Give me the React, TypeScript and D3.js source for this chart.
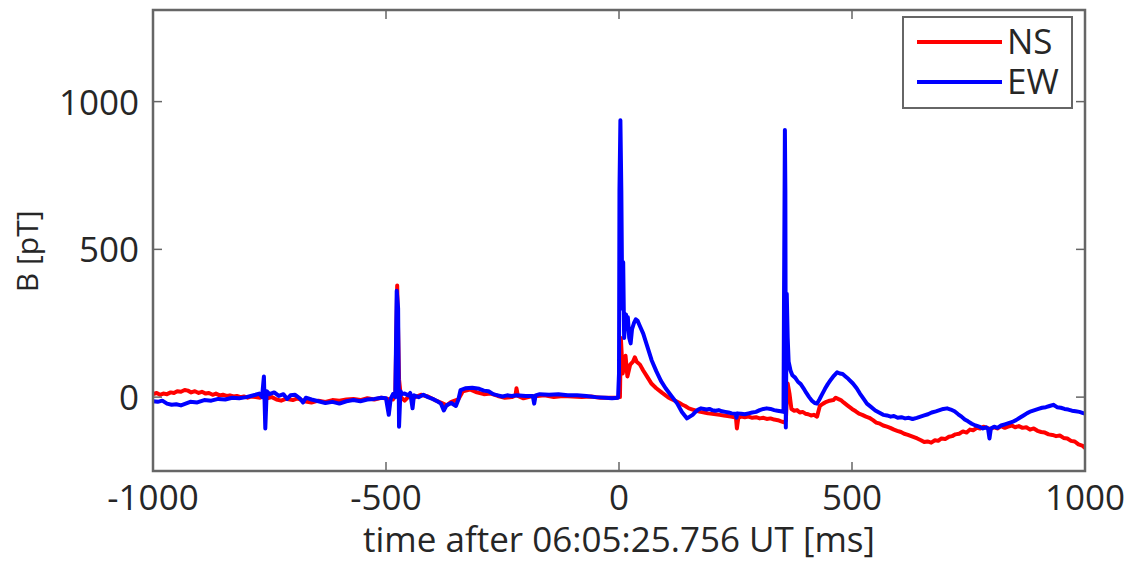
import React from "react";
import * as d3 from "d3";

// [time ms, B pT]
const nsSeries: [number, number][] = [
  [-1000,10],[-992,14],[-985,8],[-978,12],[-970,10],[-962,16],[-955,14],[-948,20],[-940,18],[-932,24],[-925,22],[-918,16],[-910,20],[-902,14],[-895,18],[-887,12],[-880,14],[-872,8],[-865,12],[-857,6],[-850,8],[-842,4],[-835,6],[-827,2],[-820,4],[-812,0],[-805,2],[-797,-2],[-790,2],[-780,0],[-770,-2],[-765,4],[-755,-4],[-745,0],[-735,-8],[-725,-12],[-715,-6],[-700,-10],[-690,-4],[-675,-14],[-660,-18],[-645,-12],[-630,-16],[-615,-10],[-600,-12],[-585,-8],[-570,-6],[-555,-10],[-540,-4],[-525,-8],[-510,-2],[-495,-6],[-485,-8],[-480,10],[-476,378],[-472,60],[-468,0],[-460,-12],[-450,4],[-440,-2],[-425,8],[-410,2],[-395,-10],[-380,-20],[-370,-28],[-360,-16],[-345,-8],[-335,20],[-320,26],[-305,16],[-290,10],[-275,12],[-260,4],[-245,-2],[-230,0],[-222,6],[-220,30],[-217,4],[-205,-4],[-190,2],[-175,4],[-160,6],[-140,0],[-120,4],[-100,2],[-80,0],[-60,2],[-40,-2],[-20,-2],[-5,-2],[0,0],[2,0],[4,200],[8,80],[14,140],[18,70],[24,110],[30,120],[34,135],[38,120],[45,110],[52,90],[60,70],[70,45],[80,30],[92,15],[105,0],[112,-6],[120,-12],[128,-18],[135,-25],[142,-30],[150,-38],[158,-42],[166,-46],[175,-50],[183,-52],[191,-55],[200,-56],[208,-58],[216,-60],[225,-62],[233,-64],[240,-66],[248,-68],[251,-70],[253,-106],[256,-70],[262,-66],[270,-68],[278,-66],[286,-70],[294,-68],[302,-72],[310,-70],[317,-74],[325,-72],[333,-76],[341,-78],[348,-82],[354,-85],[358,-80],[362,46],[366,10],[370,-40],[376,-46],[382,-44],[388,-52],[394,-50],[400,-56],[406,-58],[412,-62],[418,-60],[425,-66],[431,-30],[438,-22],[445,-16],[452,-12],[460,-10],[465,-2],[470,-6],[476,-10],[482,-18],[490,-28],[500,-40],
  [508,-48],[515,-56],[522,-60],[530,-66],[537,-70],[545,-78],[552,-86],[560,-90],[567,-96],[575,-100],[582,-104],[590,-110],[597,-114],[605,-118],[612,-124],[620,-128],[630,-134],[640,-140],[648,-146],[655,-152],[662,-150],[670,-154],[678,-146],[685,-148],[692,-140],[700,-142],[708,-134],[715,-132],[722,-126],[730,-124],[738,-116],[746,-120],[753,-110],[760,-112],[768,-104],[775,-106],[782,-100],[790,-104],[797,-108],[805,-102],[812,-106],[820,-98],[828,-104],[835,-100],[843,-96],[850,-102],[858,-98],[866,-104],[874,-102],[882,-110],[890,-106],[898,-114],[906,-118],[914,-120],[922,-126],[930,-128],[938,-132],[946,-130],[954,-138],[962,-140],[970,-148],[978,-150],[986,-160],[994,-164],[1000,-172],
];

const ewSeries: [number, number][] = [
  [-1000,-14],[-990,-16],[-980,-12],[-970,-22],[-960,-26],[-950,-24],[-940,-28],[-930,-22],[-920,-16],[-905,-18],[-890,-10],[-875,-12],[-860,-6],[-845,-8],[-830,-2],[-815,-4],[-800,0],[-790,4],[-780,8],[-772,12],[-766,0],[-762,70],[-759,-106],[-756,20],[-750,10],[-740,16],[-730,4],[-720,10],[-712,-6],[-705,6],[-695,8],[-685,-4],[-678,-18],[-672,-2],[-660,-8],[-645,-14],[-630,-20],[-615,-16],[-600,-22],[-585,-14],[-570,-10],[-555,-14],[-540,-8],[-525,-6],[-510,-2],[-500,-4],[-494,-60],[-490,-6],[-485,10],[-480,0],[-477,360],[-474,300],[-472,-100],[-469,20],[-466,10],[-460,12],[-452,6],[-448,14],[-443,-38],[-440,6],[-430,0],[-420,8],[-410,0],[-400,-6],[-390,-14],[-382,-22],[-376,-45],[-370,-28],[-360,-20],[-350,-30],[-345,-10],[-340,24],[-330,30],[-315,32],[-300,28],[-290,22],[-280,20],[-270,10],[-260,6],[-250,2],[-240,6],[-230,4],[-220,6],[-200,4],[-185,4],[-182,-22],[-179,6],[-170,10],[-150,8],[-130,10],[-110,6],[-90,6],[-70,4],[-50,0],[-30,-2],[-15,-4],[-2,-2],
  [0,80],[1,700],[3,937],[5,700],[7,300],[9,456],[11,200],[13,240],[15,280],[17,250],[19,270],[22,200],[25,182],[28,230],[32,250],[36,263],[40,258],[45,240],[52,215],[60,175],[70,125],[80,88],[90,55],[100,30],[112,5],[125,-22],[135,-50],[146,-72],
  [152,-66],[158,-60],[164,-50],[170,-42],[176,-38],[182,-40],[188,-42],[194,-40],[200,-44],[207,-46],[214,-44],[221,-48],[228,-50],[235,-52],[242,-55],[250,-56],[252,-70],[254,-55],[262,-56],[270,-58],[278,-55],[286,-52],[294,-50],[302,-44],[310,-40],[317,-38],[325,-40],[333,-44],[340,-46],[347,-48],[353,-50],
  [354,300],[355,600],[356,904],[357,700],[358,-103],[360,350],[362,200],[364,120],[368,90],[372,74],[378,66],[384,52],[390,44],[396,30],[402,14],[408,0],[414,-12],[420,-20],[425,-22],[430,-8],[436,10],[442,28],[448,44],[455,60],[461,72],[468,84],[474,80],[480,78],[486,70],[492,62],
  [502,46],[510,30],[517,12],[525,-6],[532,-22],[540,-32],[550,-45],[558,-52],[567,-60],[575,-62],[583,-66],[590,-64],[598,-70],[606,-68],[614,-72],[622,-70],[630,-74],[639,-70],[647,-66],[655,-62],[663,-58],[671,-52],[680,-48],[688,-44],[696,-40],[704,-38],[712,-42],[720,-48],[728,-58],[735,-66],[742,-76],[749,-82],[757,-90],[765,-96],[773,-100],[781,-106],[788,-102],[792,-108],[795,-140],[798,-106],[805,-100],[812,-104],[820,-96],[828,-92],[836,-88],[844,-84],[852,-78],[860,-70],[868,-62],[876,-54],[884,-48],[892,-44],[900,-40],[908,-36],[916,-34],[924,-30],[932,-26],[940,-34],[948,-36],[956,-40],[964,-42],[972,-46],[980,-48],[988,-50],[996,-54],[1000,-56],
];

const xTicks = [-1000, -500, 0, 500, 1000];
const yTicks = [0, 500, 1000];
const seriesNames = ["NS", "EW"];
const seriesColors = ["#ff0000", "#0000ff"];

const W = 1128, H = 563;
const L = 153, R = 1085, T = 10, B = 471;
const FONT = "'Open Sans', sans-serif";
const TEXT = "#262626";
const AXIS = "#666666";

export default function App() {
  const x = d3.scaleLinear().domain([-1000, 1000]).range([L, R]);
  const y = d3.scaleLinear().domain([-250, 1310]).range([B, T]);
  const line = d3.line<[number, number]>().x(d => x(d[0])).y(d => y(d[1]));
  const data = [nsSeries, ewSeries];
  const tickLen = 9;
  return (
    <svg width={W} height={H} style={{ position: "absolute", left: 0, top: 0, background: "#fff" }}>
      <rect x={0} y={0} width={W} height={H} fill="#fff" />
      <defs>
        <clipPath id="plot"><rect x={L} y={T} width={R - L} height={B - T} /></clipPath>
      </defs>
      <g clipPath="url(#plot)">
        {data.map((d, i) => (
          <path key={i} d={line(d) || ""} fill="none" stroke={seriesColors[i]} strokeWidth={4} strokeLinejoin="round" />
        ))}
      </g>
      {xTicks.map(t => (
        <g key={"x" + t}>
          <line x1={x(t)} x2={x(t)} y1={B} y2={B - tickLen} stroke={AXIS} strokeWidth={1.5} />
          <line x1={x(t)} x2={x(t)} y1={T} y2={T + tickLen} stroke={AXIS} strokeWidth={1.5} />
          <text x={x(t)} y={510} textAnchor="middle" fontFamily={FONT} fontSize={35} fill={TEXT}>{t}</text>
        </g>
      ))}
      {yTicks.map(t => (
        <g key={"y" + t}>
          <line x1={L} x2={L + tickLen} y1={y(t)} y2={y(t)} stroke={AXIS} strokeWidth={1.5} />
          <line x1={R} x2={R - tickLen} y1={y(t)} y2={y(t)} stroke={AXIS} strokeWidth={1.5} />
          <text x={139} y={y(t) + 13} textAnchor="end" fontFamily={FONT} fontSize={35} fill={TEXT}>{t}</text>
        </g>
      ))}
      <rect x={L} y={T} width={R - L} height={B - T} fill="none" stroke={AXIS} strokeWidth={2.5} />
      <text x={(L + R) / 2} y={552} textAnchor="middle" fontFamily={FONT} fontSize={35} fill={TEXT}>time after 06:05:25.756 UT [ms]</text>
      <text transform={`translate(38, ${y(500) + 2}) rotate(-90)`} textAnchor="middle" fontFamily={FONT} fontSize={30} fill={TEXT}>B [pT]</text>
      <rect x={903} y={17} width={169} height={91} fill="#fff" stroke={AXIS} strokeWidth={2} />
      {seriesNames.map((n, i) => (
        <g key={n}>
          <line x1={917} x2={1002} y1={42 + i * 40} y2={42 + i * 40} stroke={seriesColors[i]} strokeWidth={4} />
          <text x={1007} y={54 + i * 40} fontFamily={FONT} fontSize={35} fill={TEXT}>{n}</text>
        </g>
      ))}
    </svg>
  );
}
